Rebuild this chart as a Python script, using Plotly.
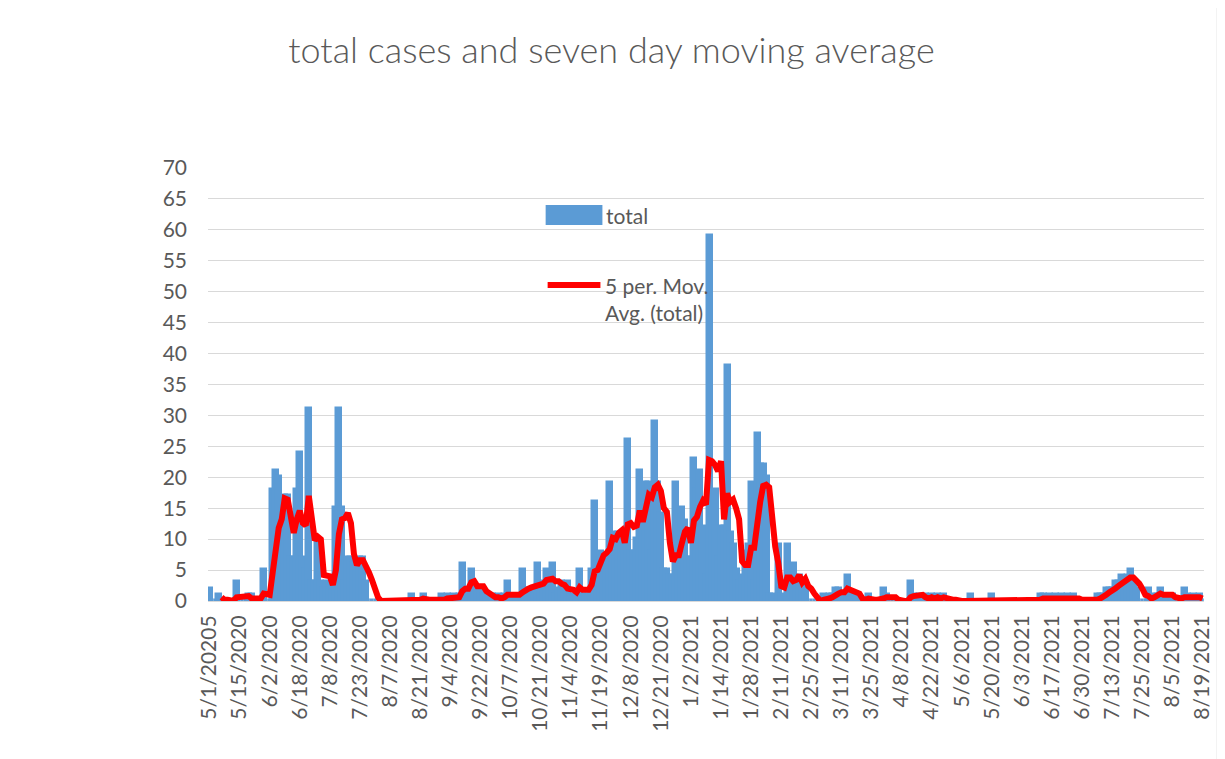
import plotly.graph_objects as go
import pandas as pd

# ---- data ----
tick_labels = ["5/1/20205", "5/15/2020", "6/2/2020", "6/18/2020", "7/8/2020", "7/23/2020",
               "8/7/2020", "8/21/2020", "9/4/2020", "9/22/2020", "10/7/2020", "10/21/2020",
               "11/4/2020", "11/19/2020", "12/8/2020", "12/21/2020", "1/2/2021", "1/14/2021",
               "1/28/2021", "2/11/2021", "2/25/2021", "3/11/2021", "3/25/2021", "4/8/2021",
               "4/22/2021", "5/6/2021", "5/20/2021", "6/3/2021", "6/17/2021", "6/30/2021",
               "7/13/2021", "7/25/2021", "8/5/2021", "8/19/2021"]

total = [
    2, 0, 0, 1, 0, 0, 0, 0, 0, 3,          # 0-9
    0, 0, 0, 1, 1, 0, 0, 0, 5, 0,          # 10-19
    0, 18, 21, 20, 7, 17, 17, 7, 7, 18,    # 20-29
    24, 7, 5, 31, 3, 3, 10, 3, 2, 3,       # 30-39
    2, 3, 15, 31, 15, 3, 7, 7, 6, 6,       # 40-49
    7, 7, 3, 0, 0, 0, 0, 0, 0, 0,          # 50-59
    0, 0, 0, 0, 0, 0, 0, 1, 0, 0,          # 60-69
    0, 1, 0, 0, 0, 0, 0, 1, 0, 1,          # 70-79
    0, 1, 0, 1, 6, 2, 1, 5, 2, 2,          # 80-89
    2, 1, 1, 0, 1, 0, 1, 0, 1, 3,          # 90-99
    0, 1, 1, 0, 5, 2, 2, 2, 1, 6,          # 100-109
    3, 2, 5, 2, 6, 1, 2, 3, 1, 3,          # 110-119
    1, 1, 1, 5, 1, 1, 1, 5, 16, 2,         # 120-129
    8, 6, 7, 19, 11, 7, 11, 9, 9, 26,      # 130-139
    8, 8, 10, 21, 17, 19, 19, 8, 29, 19,   # 140-149
    14, 5, 5, 4, 4, 19, 5, 15, 13, 7,      # 150-159
    7, 23, 18, 21, 12, 4, 59, 17, 18, 7,   # 160-169
    12, 12, 38, 11, 9, 5, 3, 4, 8, 9,      # 170-179
    19, 3, 27, 22, 22, 20, 1, 1, 0, 9,     # 180-189
    1, 0, 9, 0, 6, 2, 4, 3, 3, 0,          # 190-199
    0, 0, 0, 0, 1, 0, 1, 1, 2, 2,          # 200-209
    1, 1, 4, 1, 0, 1, 0, 0, 0, 1,          # 210-219
    0, 0, 0, 0, 2, 1, 0, 0, 0, 0,          # 220-229
    0, 0, 0, 3, 1, 0, 1, 0, 1, 0,          # 230-239
    1, 0, 1, 0, 1, 0, 0, 0, 0, 0,          # 240-249
    0, 0, 0, 1, 0, 0, 0, 0, 0, 0,          # 250-259
    1, 0, 0, 0, 0, 0, 0, 0, 0, 0,          # 260-269
    0, 0, 0, 0, 0, 0, 1, 1, 0, 1,          # 270-279
    0, 1, 0, 1, 0, 1, 0, 1, 0, 0,          # 280-289
    0, 0, 0, 0, 0, 1, 1, 1, 2, 2,          # 290-299
    2, 3, 3, 4, 3, 4, 5, 3, 2, 0,          # 300-309
    0, 0, 2, 0, 1, 1, 2, 1, 0, 1,          # 310-319
    1, 0, 0, 0, 2, 1, 0, 1, 0, 1,          # 320-329
    0,                                     # 330
]

days = list(range(len(total)))
tick_positions = days[::10]
moving_avg = pd.Series(total).rolling(5).mean()

FONT = "Lato"
GREY = "#595959"
BLUE = "#5B9BD5"
RED = "#FF0000"
BORDER = "#D9D9D9"

# The page body adds an 8 px margin, so the figure is drawn 8 px smaller
# and all window-pixel positions below are converted with that offset.
OFF = 8
W, H = 1225 - OFF, 759 - OFF
# plot-area edges in window pixels
L, R, T, B = 208, 1208, 168, 601


def px(xp):
    return (xp - L) / (R - L)


def py(yp):
    return (B - yp) / (B - T)


fig = go.Figure()
fig.add_trace(go.Bar(
    x=days, y=total, name="total",
    marker=dict(color=BLUE, line=dict(color=BLUE, width=4.5)),
    showlegend=False,
))
fig.add_trace(go.Scatter(
    x=days, y=moving_avg, mode="lines", name="5 per. Mov. Avg. (total)",
    line=dict(color=RED, width=6),
    showlegend=False,
))

fig.update_layout(
    width=W, height=H,
    margin=dict(l=L - OFF, r=W - (R - OFF), t=T - OFF, b=H - (B - OFF)),
    paper_bgcolor="white", plot_bgcolor="white",
    bargap=0,
    font=dict(family=FONT, color=GREY),
    title=dict(text="total cases and seven day moving average",
               x=(611.5 - OFF) / W, xanchor="center",
               y=1 - (50 - OFF) / H, yanchor="middle",
               xref="container", yref="container",
               font=dict(family=FONT, size=36, color=GREY, weight=300)),
    xaxis=dict(range=[-0.5, len(total) - 0.5], tickmode="array",
               tickvals=tick_positions, ticktext=tick_labels, tickangle=-90,
               showgrid=False, zeroline=False, showline=True,
               linecolor=BORDER, linewidth=1, ticks="",
               tickfont=dict(family=FONT, size=21, color=GREY),
               ticklabelstandoff=5),
    yaxis=dict(range=[0, 70], dtick=5, tick0=0, showgrid=True,
               gridcolor=BORDER, gridwidth=1, zeroline=False, showline=False,
               ticks="", tickfont=dict(family=FONT, size=21, color=GREY),
               ticklabelstandoff=20),
    shapes=[
        # legend symbols
        dict(type="rect", xref="paper", yref="paper",
             x0=px(547), x1=px(604), y0=py(225), y1=py(205),
             fillcolor=BLUE, line=dict(width=0), layer="above"),
        dict(type="line", xref="paper", yref="paper",
             x0=px(549), x1=px(602), y0=py(285), y1=py(285),
             line=dict(color=RED, width=6), layer="above"),
        # chart-area border (right edge is the part inside the page)
        dict(type="line", xref="paper", yref="paper",
             x0=px(1221.5), x1=px(1221.5), y0=py(790), y1=py(6.5),
             line=dict(color=BORDER, width=1.5), layer="above"),
    ],
    annotations=[
        dict(text="total", xref="paper", yref="paper", x=px(606), y=py(215),
             xanchor="left", yanchor="middle", showarrow=False,
             font=dict(family=FONT, size=21, color=GREY)),
        dict(text="5 per. Mov.<br>Avg. (total)", xref="paper", yref="paper",
             x=px(605), y=py(299), xanchor="left", yanchor="middle", align="left",
             showarrow=False, font=dict(family=FONT, size=21, color=GREY)),
    ],
)

fig.write_html("out.html")
